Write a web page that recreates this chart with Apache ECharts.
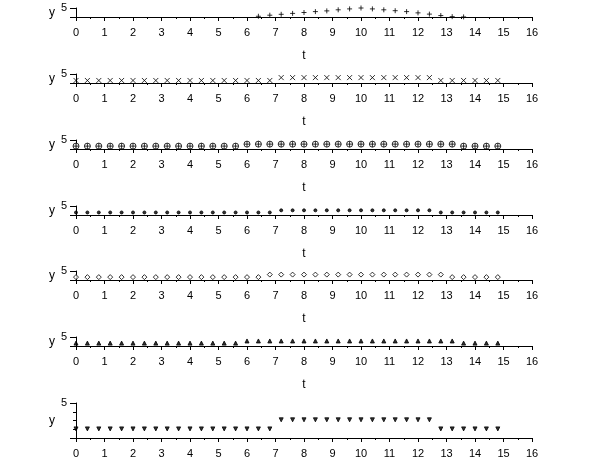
<!DOCTYPE html>
<html><head><meta charset="utf-8">
<script src="https://cdn.jsdelivr.net/npm/echarts@6/dist/echarts.min.js"></script>
<style>html,body{margin:0;padding:0;background:#fff}#c{width:610px;height:460px}</style>
</head><body><div id="c"></div>
<script>
var t = [0,0.4,0.8,1.2,1.6,2,2.4,2.8,3.2,3.6,4,4.4,4.8,5.2,5.6,6,6.4,6.8,7.2,7.6,8,8.4,8.8,9.2,9.6,10,10.4,10.8,11.2,11.6,12,12.4,12.8,13.2,13.6,14,14.4,14.8];
var xTicks = [0,1,2,3,4,5,6,7,8,9,10,11,12,13,14,15,16];
var yTicks = [0,5];
var s1 = [null,null,null,null,null,null,null,null,null,null,null,null,null,null,null,null,0.4,1.0,1.5,2.0,2.5,3.0,3.4,4.0,4.5,5.0,4.5,4.0,3.5,3.0,2.3,1.6,0.8,0.2,0.05,null,null,null];
var s2 = [1.4,1.4,1.4,1.4,1.4,1.4,1.4,1.4,1.4,1.4,1.4,1.4,1.4,1.4,1.4,1.4,1.4,1.4,3.0,3.0,3.0,3.0,3.0,3.0,3.0,3.0,3.0,3.0,3.0,3.0,3.0,3.0,1.4,1.4,1.4,1.4,1.4,1.4];
var s3 = [1.6,1.6,1.6,1.6,1.6,1.6,1.6,1.6,1.6,1.6,1.6,1.6,1.6,1.6,1.6,2.7,2.7,2.7,2.7,2.7,2.7,2.7,2.7,2.7,2.7,2.7,2.7,2.7,2.7,2.7,2.7,2.7,2.7,2.7,1.6,1.6,1.6,1.6];
var s4 = [1.4,1.4,1.4,1.4,1.4,1.4,1.4,1.4,1.4,1.4,1.4,1.4,1.4,1.4,1.4,1.4,1.4,1.4,2.6,2.6,2.6,2.6,2.6,2.6,2.6,2.6,2.6,2.6,2.6,2.6,2.6,2.6,1.4,1.4,1.4,1.4,1.4,1.4];
var s5 = [1.6,1.6,1.6,1.6,1.6,1.6,1.6,1.6,1.6,1.6,1.6,1.6,1.6,1.6,1.6,1.6,1.6,3.0,3.0,3.0,3.0,3.0,3.0,3.0,3.0,3.0,3.0,3.0,3.0,3.0,3.0,3.0,3.0,1.6,1.6,1.6,1.6,1.6];
var s6 = [1.6,1.6,1.6,1.6,1.6,1.6,1.6,1.6,1.6,1.6,1.6,1.6,1.6,1.6,1.6,2.8,2.8,2.8,2.8,2.8,2.8,2.8,2.8,2.8,2.8,2.8,2.8,2.8,2.8,2.8,2.8,2.8,2.8,2.8,1.6,1.6,1.6,1.6];
var s7 = [1.3,1.3,1.3,1.3,1.3,1.3,1.3,1.3,1.3,1.3,1.3,1.3,1.3,1.3,1.3,1.3,1.3,1.3,2.6,2.6,2.6,2.6,2.6,2.6,2.6,2.6,2.6,2.6,2.6,2.6,2.6,2.6,1.3,1.3,1.3,1.3,1.3,1.3];
var seriesData = [s1,s2,s3,s4,s5,s6,s7];

var symbols = [
  {symbol:'path://M0,5L10,5M5,0L5,10', size:5, fill:'none'},
  {symbol:'path://M0,0L10,10M10,0L0,10', size:5, fill:'none'},
  {symbol:'path://M0,5A5,5,0,1,1,10,5A5,5,0,1,1,0,5ZM0,5L10,5M5,0L5,10', size:6, fill:'#fff'},
  {symbol:'circle', size:3, fill:'#000'},
  {symbol:'diamond', size:5, fill:'#fff'},
  {symbol:'triangle', size:4, fill:'#000'},
  {symbol:'triangle', size:4, fill:'#000', rotate:180}
];
var tops = [8,74,140,206,271,337,403];
var heights = [9,9,9,9,9,9,35];

var grids=[], xAxes=[], yAxes=[], series=[];
for (var i=0;i<7;i++){
  grids.push({left:76, right:78, top:tops[i], height:heights[i], containLabel:false, outerBoundsMode:'none'});
  xAxes.push({type:'value', gridIndex:i, min:xTicks[0], max:xTicks[xTicks.length-1], interval:1,
    name:'t', nameLocation:'middle', nameGap:33,
    nameTextStyle:{color:'#000', fontSize:12, fontFamily:'Liberation Sans'},
    axisLine:{onZero:false, lineStyle:{color:'#000', width:1}},
    axisTick:{show:true, length:4, lineStyle:{color:'#000'}},
    minorTick:{show:true, splitNumber:2, length:2, lineStyle:{color:'#000'}},
    axisLabel:{color:'#000', fontSize:11, fontFamily:'Liberation Sans', margin:10},
    splitLine:{show:false}});
  yAxes.push({type:'value', gridIndex:i, min:yTicks[0], max:yTicks[1], interval:5,
    name:'y', nameLocation:'middle', nameGap:20, nameRotate:0,
    nameTextStyle:{color:'#000', fontSize:12, fontFamily:'Liberation Sans'},
    axisLine:{show:true, lineStyle:{color:'#000', width:1}},
    axisTick:{show:true, length:6, lineStyle:{color:'#000'}},
    minorTick:{show:i===6, splitNumber:4, length:3, lineStyle:{color:'#000'}},
    axisLabel:{color:'#000', fontSize:11, fontFamily:'Liberation Sans', margin:9,
      formatter:function(v){return v===0?'':String(v);}},
    splitLine:{show:false}});
  var d=[];
  for (var k=0;k<t.length;k++){ if (seriesData[i][k]!==null) d.push([t[k], seriesData[i][k]]); }
  var sy=symbols[i];
  series.push({type:'scatter', xAxisIndex:i, yAxisIndex:i, data:d, symbol:sy.symbol, symbolSize:sy.size,
    symbolRotate:sy.rotate||0, clip:true, silent:true,
    itemStyle:{color:sy.fill, borderColor:'#000', borderWidth:1}});
}
var chart = echarts.init(document.getElementById('c'), null, {renderer:'canvas'});
chart.setOption({animation:false, backgroundColor:'#fff', grid:grids, xAxis:xAxes, yAxis:yAxes, series:series});
</script></body></html>
